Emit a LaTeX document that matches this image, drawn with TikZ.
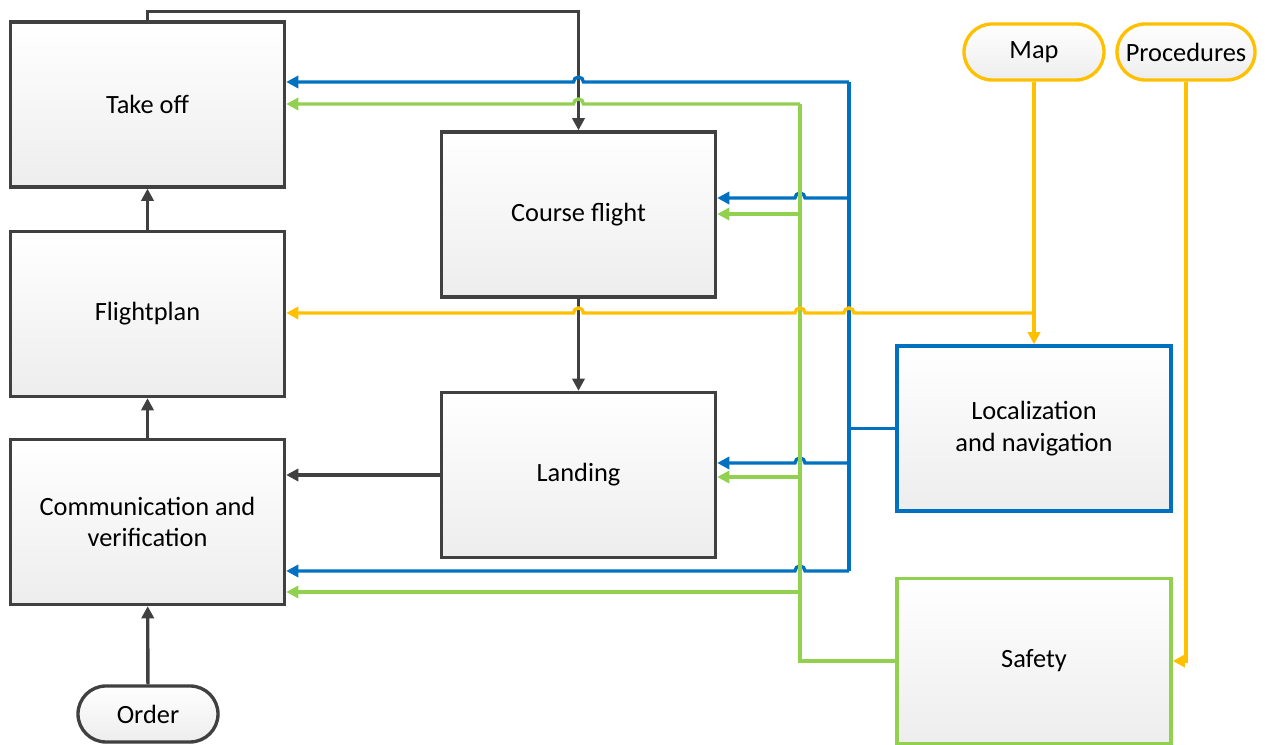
\documentclass[tikz,border=0pt]{standalone}
\usepackage{fontspec}
\setmainfont{Carlito}
\usetikzlibrary{arrows.meta,shadows}

\definecolor{darkline}{HTML}{404040}
\definecolor{locblue}{HTML}{0070C0}
\definecolor{safegreen}{HTML}{92D050}
\definecolor{inyellow}{HTML}{FFC000}

\begin{document}
\begin{tikzpicture}[line width=1.9pt,>={Triangle[length=7pt,width=7pt]},
  box/.style={rectangle,draw=darkline,top color=white,bottom color=gray!14,
    minimum width=5.48cm,minimum height=3.3cm,align=center,
    font=\fontsize{15}{18}\selectfont,
    drop shadow={opacity=0.2,shadow xshift=0.6pt,shadow yshift=-0.6pt}},
  pill/.style={box,minimum width=2.8cm,minimum height=1.12cm,rounded corners=0.56cm}]
  \useasboundingbox (0,0) rectangle (25.3,14.9);
  %\draw[help lines] (0,0) grid (25,14);
  \node[box] (takeoff) at (2.95,12.81) {Take off};
  \node[box] (flightplan) at (2.95,8.62) {Flightplan};
  \node[box] (comm) at (2.95,4.46) {Communication and\\verification};
  \node[box] (course) at (11.57,10.61) {Course flight};
  \node[box] (landing) at (11.57,5.40) {Landing};
  \node[box,draw=locblue] (loc) at (20.68,6.33) {Localization\\and navigation};
  \node[box,draw=safegreen] (safety) at (20.68,1.68) {Safety};
  \node[pill,draw=inyellow] (map) at (20.68,13.86) {Map};
  \node[pill,draw=inyellow,minimum width=2.76cm] (proc) at (23.72,13.86) {Procedures};
  \node[pill] (order) at (2.96,0.62) {Order};

  \draw[->,darkline] (takeoff.north) -- ++(0,0.18) -| (course.north);
  \draw[->,darkline] (flightplan) -- (takeoff);
  \draw[->,darkline] (comm) -- (flightplan);
  \draw[->,darkline] (order) -- (comm);
  \draw[->,darkline] (course) -- (landing);
  \draw[->,darkline] (landing.west) -- (landing.west -| comm.east);

  % localization
  \draw[locblue] (loc.west) -- (16.98,6.33);
  \draw[locblue] (16.98,3.48) -- (16.98,13.26);
  \draw[->,locblue] (16.98,13.26) -- (11.67,13.26) arc (0:180:0.1) -- (takeoff.east |- 0,13.26);
  \draw[->,locblue] (16.98,10.94) -- (16.1,10.94) arc (0:180:0.1) -- (course.east |- 0,10.94);
  \draw[->,locblue] (16.98,5.64) -- (16.1,5.64) arc (0:180:0.1) -- (landing.east |- 0,5.64);
  \draw[->,locblue] (16.98,3.48) -- (16.1,3.48) arc (0:180:0.1) -- (comm.east |- 0,3.48);

  % safety
  \draw[safegreen] (safety.west) -- (16.0,1.68) -- (16.0,12.82);
  \draw[->,safegreen] (16.0,12.82) -- (11.67,12.82) arc (0:180:0.1) -- (takeoff.east |- 0,12.82);
  \draw[->,safegreen] (16.0,10.62) -- (course.east |- 0,10.62);
  \draw[->,safegreen] (16.0,5.36) -- (landing.east |- 0,5.36);
  \draw[->,safegreen] (16.0,3.06) -- (comm.east |- 0,3.06);

  % map and procedures
  \draw[->,inyellow] (map.south) -- (loc.north);
  \draw[->,inyellow] (20.68,8.64) -- (17.08,8.64) arc (0:180:0.1) -- (16.1,8.64) arc (0:180:0.1)
    -- (11.67,8.64) arc (0:180:0.1) -- (flightplan.east |- 0,8.64);
  \draw[->,inyellow] (proc.south) |- (safety.east);
\end{tikzpicture}
\end{document}
